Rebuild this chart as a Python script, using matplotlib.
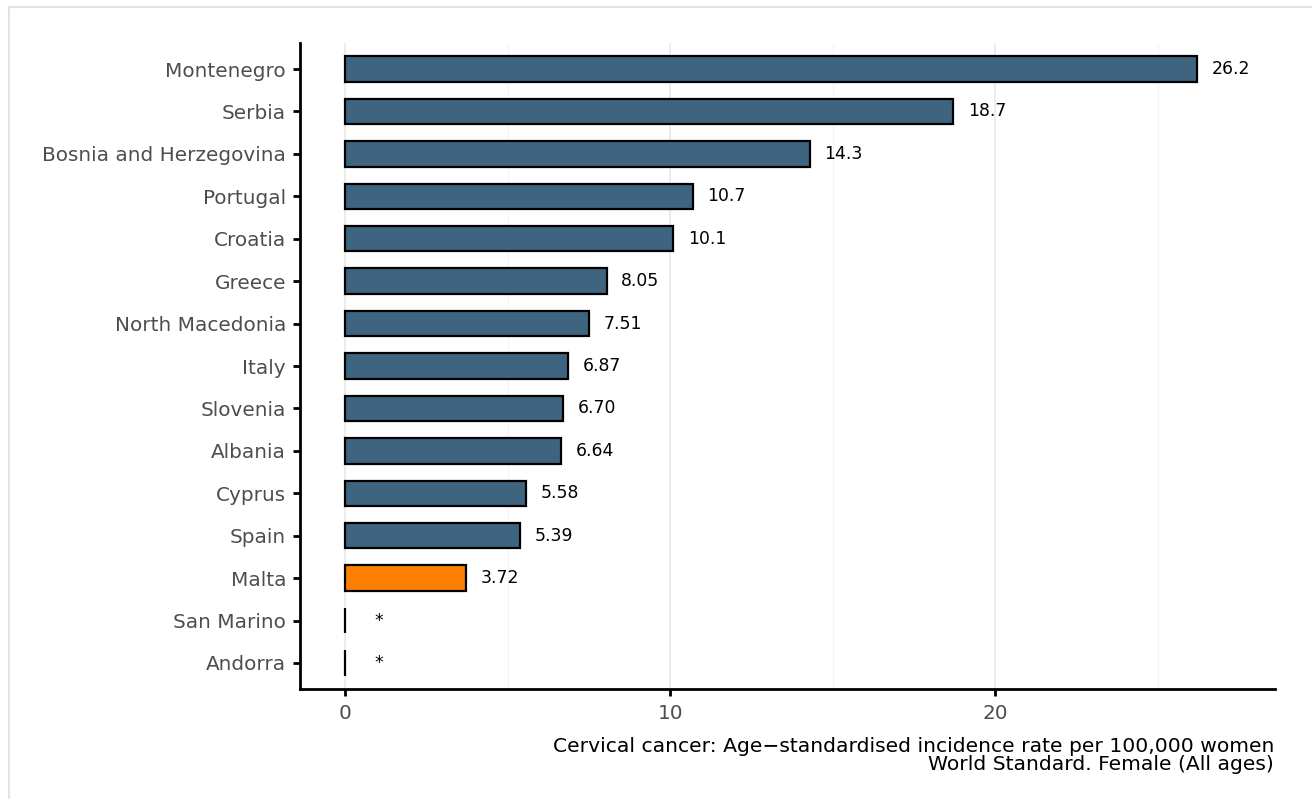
import matplotlib
matplotlib.use("Agg")
import matplotlib.pyplot as plt
from matplotlib.patches import Rectangle

countries = ["Montenegro", "Serbia", "Bosnia and Herzegovina", "Portugal", "Croatia",
             "Greece", "North Macedonia", "Italy", "Slovenia", "Albania", "Cyprus",
             "Spain", "Malta", "San Marino", "Andorra"]
values = [26.2, 18.7, 14.3, 10.7, 10.1, 8.05, 7.51, 6.87, 6.70, 6.64, 5.58, 5.39, 3.72, 0.0, 0.0]
labels = ["26.2", "18.7", "14.3", "10.7", "10.1", "8.05", "7.51", "6.87", "6.70", "6.64",
          "5.58", "5.39", "3.72", "*", "*"]
highlight = "Malta"
xticks = [0, 10, 20]
minor_xticks = [5, 15, 25]
caption = "Cervical cancer: Age\u2212standardised incidence rate per 100,000 women\nWorld Standard. Female (All ages)"

plt.rcParams['font.family'] = ['DejaVu Sans']
fig = plt.figure(figsize=(13.12, 7.99), dpi=100)
ax = fig.add_axes([300/1312, 1-689/799, (1275-300)/1312, (689-43)/799])

n = len(countries)
ypos = list(range(n - 1, -1, -1))
colors = ["#FF7F00" if c == highlight else "#3E6480" for c in countries]
ax.barh(ypos, values, height=0.6, color=colors, edgecolor="black", linewidth=1.6, zorder=3)

for y, v, lab in zip(ypos, values, labels):
    off = 10.5 if lab != "*" else 21
    ax.annotate(lab, (v, y), xytext=(off, 0), textcoords="offset points",
                ha="left", va="center", fontsize=12.4, color="black", zorder=4)

ax.set_xlim(-1.385, 28.6)
ax.set_ylim(-0.613, n - 1 + 0.613)
ax.set_yticks(ypos)
ax.set_yticklabels(countries)
ax.set_xticks(xticks)
ax.set_xticks(minor_xticks, minor=True)
ax.grid(axis="x", which="major", color="#EBEBEB", linewidth=1.3, zorder=0)
ax.grid(axis="x", which="minor", color="#F4F4F4", linewidth=0.8, zorder=0)
ax.tick_params(axis="both", which="major", length=5, width=2, color="black",
               labelsize=14.4, labelcolor="#4D4D4D")
ax.tick_params(axis="y", which="major", pad=5)
ax.tick_params(axis="x", which="major", pad=6)
ax.tick_params(axis="x", which="minor", length=0)
for s in ["top", "right"]:
    ax.spines[s].set_visible(False)
for s in ["left", "bottom"]:
    ax.spines[s].set_linewidth(2)
ax.set_axisbelow(True)

fig.text(1274/1312, 1-737/799, caption, ha="right", va="top", fontsize=14.6,
         color="black", linespacing=0.95, multialignment="right")

fig.patches.append(Rectangle((9/1312, -0.05), 1.2, 1-7/799+0.05, transform=fig.transFigure,
                             fill=False, edgecolor="#E3E3E3", linewidth=1.5))

fig.savefig("out.png", dpi=100)
